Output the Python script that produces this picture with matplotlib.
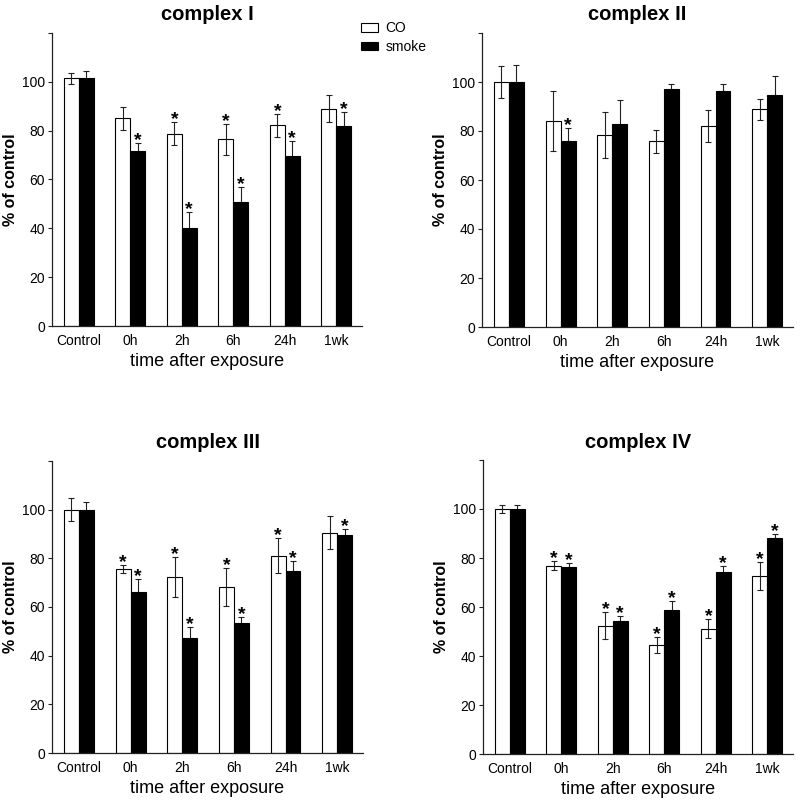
import numpy as np
import matplotlib
matplotlib.use("Agg")
import matplotlib.pyplot as plt

plt.rcParams['font.family'] = ['Liberation Sans', 'DejaVu Sans']

groups = ["Control", "0h", "2h", "6h", "24h", "1wk"]
titles = ["complex I", "complex II", "complex III", "complex IV"]

# complex I
c1_co = [101.5, 85.0, 78.8, 76.4, 82.2, 89.0]
c1_co_err = [2.3, 4.7, 4.8, 6.5, 4.8, 5.6]
c1_smoke = [101.5, 71.5, 40.1, 50.7, 69.6, 81.9]
c1_smoke_err = [3.0, 3.5, 6.6, 6.3, 6.3, 5.8]
c1_co_star = [0, 0, 1, 1, 1, 0]
c1_smoke_star = [0, 1, 1, 1, 1, 1]

# complex II
c2_co = [100.0, 84.1, 78.4, 75.8, 81.9, 88.9]
c2_co_err = [6.5, 12.2, 9.5, 4.8, 6.5, 4.3]
c2_smoke = [100.0, 75.9, 82.7, 97.1, 96.3, 94.8]
c2_smoke_err = [6.8, 5.2, 9.8, 2.2, 3.0, 7.7]
c2_co_star = [0, 0, 0, 0, 0, 0]
c2_smoke_star = [0, 1, 0, 0, 0, 0]

# complex III
c3_co = [100.0, 75.5, 72.4, 68.4, 81.1, 90.5]
c3_co_err = [4.7, 1.6, 8.2, 7.8, 7.1, 6.7]
c3_smoke = [100.0, 66.1, 47.2, 53.6, 74.7, 89.7]
c3_smoke_err = [3.1, 5.5, 4.6, 2.2, 4.1, 2.4]
c3_co_star = [0, 1, 1, 1, 1, 0]
c3_smoke_star = [0, 1, 1, 1, 1, 1]

# complex IV
c4_co = [100.0, 76.9, 52.4, 44.4, 51.2, 72.6]
c4_co_err = [1.8, 2.0, 5.5, 3.2, 4.0, 5.6]
c4_smoke = [100.0, 76.2, 54.3, 58.8, 74.2, 88.2]
c4_smoke_err = [1.8, 1.8, 1.9, 3.8, 2.7, 1.7]
c4_co_star = [0, 1, 1, 1, 1, 1]
c4_smoke_star = [0, 1, 1, 1, 1, 1]

panels = [
    (c1_co, c1_co_err, c1_smoke, c1_smoke_err, c1_co_star, c1_smoke_star),
    (c2_co, c2_co_err, c2_smoke, c2_smoke_err, c2_co_star, c2_smoke_star),
    (c3_co, c3_co_err, c3_smoke, c3_smoke_err, c3_co_star, c3_smoke_star),
    (c4_co, c4_co_err, c4_smoke, c4_smoke_err, c4_co_star, c4_smoke_star),
]

W, H = 800, 805
# axes boxes in pixels: left, top, right, bottom
boxes = [(52, 33, 362, 326), (482, 33, 793, 327),
         (52, 461, 363, 753), (483, 460, 793, 754)]

fig = plt.figure(figsize=(W / 100, H / 100), dpi=100)

x = np.arange(len(groups))
bw = 0.29
axis_col = '#222222'

for k, (co, co_err, sm, sm_err, co_star, sm_star) in enumerate(panels):
    l, t, r, b = boxes[k]
    ax = fig.add_axes([l / W, 1 - b / H, (r - l) / W, (b - t) / H])
    bars_co = ax.bar(x - bw / 2, co, bw, color='white', edgecolor='black', linewidth=0.8,
                     label='CO', zorder=2)
    bars_sm = ax.bar(x + bw / 2, sm, bw, color='black', edgecolor='black', linewidth=0.8,
                     label='smoke', zorder=2)
    # CO error bars drawn over the white bars, smoke ones under the black bars
    ax.errorbar(x - bw / 2, co, yerr=co_err, fmt='none', ecolor='#222222', elinewidth=0.8,
                capsize=2.2, capthick=0.8, zorder=3)
    ax.errorbar(x + bw / 2, sm, yerr=sm_err, fmt='none', ecolor='#222222', elinewidth=0.8,
                capsize=2.2, capthick=0.8, zorder=1)
    for i in range(len(groups)):
        if co_star[i]:
            ax.annotate('*', (x[i] - bw / 2, co[i] + co_err[i]), xytext=(0, -1.5),
                        textcoords='offset points', ha='center', va='baseline',
                        fontsize=14, fontweight='bold')
        if sm_star[i]:
            ax.annotate('*', (x[i] + bw / 2, sm[i] + sm_err[i]), xytext=(0, -1.5),
                        textcoords='offset points', ha='center', va='baseline',
                        fontsize=14, fontweight='bold')

    ax.set_xlim(-0.52, 5.5)
    ax.set_ylim(0, 120)
    ax.set_yticks([0, 20, 40, 60, 80, 100, 120])
    ax.set_yticklabels(['0', '20', '40', '60', '80', '100', ''])
    ax.set_xticks(x)
    ax.set_xticklabels(groups)
    ax.tick_params(axis='x', length=0, pad=6, labelsize=10)
    ax.tick_params(axis='y', length=3, width=0.8, color=axis_col, pad=2, labelsize=10)
    for s in ['top', 'right']:
        ax.spines[s].set_visible(False)
    for s in ['left', 'bottom']:
        ax.spines[s].set_color(axis_col)
        ax.spines[s].set_linewidth(0.9)
    ax.set_xlabel('time after exposure', fontsize=13, labelpad=3)
    ax.set_ylabel('% of control', fontsize=11.5, fontweight='bold', labelpad=3)
    ax.set_title(titles[k], fontsize=14.5, fontweight='bold', pad=9)

    if k == 0:
        ax.legend([bars_co, bars_sm], ['CO', 'smoke'], loc='upper left',
                  bbox_to_anchor=(361 / W, 1 - 21 / H), bbox_transform=fig.transFigure,
                  frameon=False, fontsize=10, handlelength=1.25, handleheight=0.6,
                  handletextpad=0.5, labelspacing=0.35, borderpad=0, borderaxespad=0)

fig.savefig('out.png', dpi=100)
